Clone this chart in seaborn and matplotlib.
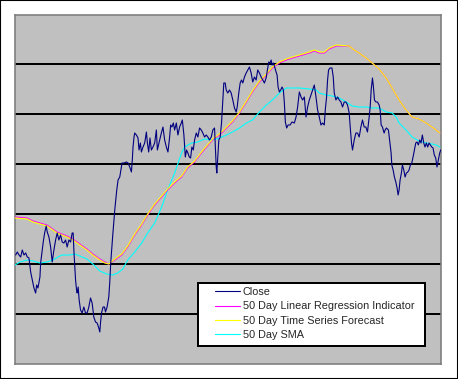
import pandas as pd
import matplotlib
matplotlib.use("Agg")
import matplotlib.pyplot as plt
import seaborn as sns

# (day, price)
close_pts = [(0.7, 20.9), (2.3, 21.2), (4, 20.9), (5.7, 20.7), (7.3, 21.4), (9, 20.9), (10.7, 21.1), (12.3, 20.7),
             (14, 20.6), (15.7, 19.2), (17.3, 18.4), (19, 17.6), (20.7, 17.1), (21.7, 17.9), (23, 17.6), (25, 18.7),
             (25.7, 20.1), (27.3, 21.4), (28.3, 22.2), (29.7, 23.1), (31.3, 23.8), (32.3, 23.2), (34, 22.7), (35.7, 21.7),
             (37.3, 20.2), (39, 21.4), (40.7, 22.4), (42.3, 23.1), (44, 22.4), (45.7, 22.9), (47.3, 22.2), (49, 22.1),
             (50.7, 22.4), (52.3, 21.7), (54, 22.4), (55.7, 22.2), (57.3, 23.1), (58.3, 23.1), (59, 21.4), (59.7, 20.1),
             (60.7, 18.4), (61.7, 17.4), (62.3, 17.1), (63.3, 17.7), (64.3, 16.4), (65.7, 15.4), (67.3, 15.1), (69, 15.7),
             (70.7, 15.1), (72.3, 15.1), (74, 15.7), (75.7, 16.6), (77.3, 16.1), (79, 14.7), (80.7, 14.2), (82.3, 14.1),
             (84, 13.6), (85, 13.2), (85.7, 14.1), (86.7, 15.1), (88.3, 15.7), (89.7, 15.7), (90.7, 15.2), (92.3, 15.7),
             (94, 16.7), (95, 18.2), (96, 20.2), (97, 21.6), (98, 22.9), (99, 24.2), (100, 25.4), (101, 26.4),
             (102, 27.4), (103.3, 28.4), (105, 28.7), (106.7, 29.7), (107.3, 30.1), (109.3, 30.1), (111.7, 30.2), (113.3, 30.1),
             (115, 29.7), (116.7, 29.2), (117.7, 30.6), (118.3, 31.7), (119.3, 32.7), (120, 33.1), (121.7, 32.9), (123.3, 32.6),
             (124.3, 31.4), (125.7, 32.1), (126.7, 31.2), (128.3, 31.7), (130, 32.1), (131.7, 33.2), (132.7, 32.1), (134, 31.2),
             (135.3, 32.6), (136.7, 31.4), (138.3, 31.7), (140, 32.1), (141.7, 33.4), (142.7, 31.4), (144.3, 32.1), (146.7, 33.1),
             (148.3, 33.7), (150, 32.4), (151.7, 31.7), (153.3, 31.2), (155, 32.7), (156, 33.9), (157.3, 33.7), (158.7, 34.1),
             (160, 33.4), (161.7, 34.1), (163.3, 32.9), (165, 33.7), (166.7, 34.1), (167.7, 34.4), (169.3, 32.9), (170.7, 30.7),
             (172, 31.4), (173.3, 31.1), (174.7, 30.7), (176, 30.6), (177.3, 31.7), (178.7, 31.4), (180, 32.4), (181.7, 33.1),
             (183.3, 32.7), (185, 33.6), (186.7, 33.4), (188.3, 33.1), (190, 32.7), (191.7, 32.9), (193.3, 32.7), (195, 32.4),
             (196.7, 32.7), (198.3, 33.4), (200, 33.6), (201, 31.4), (201.7, 29.7), (202.3, 29.1), (203.3, 30.7), (204.3, 32.4),
             (205.7, 32.7), (207, 34.1), (208.3, 36.4), (209.3, 38.1), (210.7, 38.1), (211.7, 37.4), (213.3, 37.1), (215, 37.4),
             (216.7, 37.1), (218.3, 36.4), (220, 35.6), (221.7, 35.2), (222.7, 35.7), (224.3, 37.1), (225.7, 38.1), (227, 38.4),
             (228.3, 38.1), (230, 38.7), (231.7, 39.1), (233.3, 39.4), (235, 39.7), (236.7, 39.1), (238.3, 38.2), (240, 38.7),
             (241.7, 38.4), (243.3, 39.4), (245, 39.1), (246.7, 38.7), (248.3, 38.4), (250, 38.1), (251.7, 38.6), (253.3, 39.6),
             (254.3, 40.2), (255.7, 40.1), (256.7, 40.4), (257.7, 39.9), (259, 40.1), (260.3, 39.7), (261.7, 39.2), (262.7, 38.9),
             (263.7, 37.7), (265, 37.2), (266.3, 37.4), (267.7, 37.7), (269, 37.4), (270, 36.1), (271, 34.2), (272.3, 33.6),
             (273.7, 33.9), (275.7, 33.9), (277.7, 34.2), (280, 34.1), (281.7, 34.7), (283.3, 35.7), (285, 37.2), (286.7, 36.7),
             (288.3, 36.4), (290, 36.7), (291.7, 34.7), (293.3, 35.7), (295, 36.4), (296.7, 36.9), (298.3, 37.4), (300, 37.9),
             (301.7, 36.7), (303.3, 35.4), (305, 34.7), (306.7, 33.9), (308.3, 34.1), (310, 33.9), (311, 35.4), (312.3, 36.7),
             (313.3, 38.4), (314.3, 39.4), (315.7, 39.6), (317.7, 39.6), (319, 38.7), (320, 37.1), (321.7, 36.4), (323.3, 36.7),
             (325, 36.4), (326.7, 36.2), (328.3, 35.7), (330, 36.2), (331.7, 36.2), (333.3, 35.9), (335, 35.1), (336, 33.7),
             (337.3, 32.1), (338.3, 31.4), (340, 32.4), (341.7, 33.1), (343.3, 33.1), (345, 32.7), (346.7, 33.7), (348.3, 34.4),
             (350, 33.7), (351.7, 33.7), (353.3, 33.2), (355, 34.7), (356, 35.7), (357, 37.4), (358.3, 38.6), (359.3, 37.7),
             (360.3, 36.4), (361.7, 36.2), (363.3, 36.2), (365, 35.9), (366, 35.4), (367, 33.9), (368.3, 33.7), (370, 33.1),
             (371, 33.4), (372.3, 33.6), (374.3, 33.4), (375.7, 32.2), (377, 31.1), (377.7, 29.9), (379, 29.4), (380.3, 28.7),
             (381.7, 28.2), (383, 27.6), (384, 26.9), (385, 27.4), (386, 28.4), (387.3, 29.1), (388.3, 29.9), (389.7, 29.4),
             (391, 28.7), (392.3, 29.1), (393.7, 29.2), (395, 29.4), (396.3, 29.9), (397.7, 30.1), (399, 30.7), (400.3, 31.4),
             (401.7, 32.1), (403, 32.2), (404.3, 31.9), (405.7, 32.4), (407, 32.1), (408.3, 32.9), (409.7, 32.1), (411, 31.7),
             (412.3, 32.1), (413.7, 31.7), (415, 32.1), (416.3, 31.9), (417.7, 31.7), (419, 31.6), (420.3, 30.9), (421.7, 30.6),
             (423, 29.7), (424.3, 30.4), (425.7, 31.1), (426.7, 31.4)]

lri_pts = [(0, 24.7), (12, 24.6), (18, 24.3), (25, 24.1), (32, 23.9), (35, 23.7), (42, 23.2), (52, 22.8), (58, 22.5),
           (65, 22.0), (72, 21.5), (78, 21.0), (85, 20.5), (90, 20.2), (94, 20.0), (100, 20.4), (107, 20.9), (113, 21.7),
           (120, 22.9), (127, 23.9), (133, 24.9), (140, 25.9), (147, 26.7), (153, 27.4), (160, 28.1), (167, 28.7),
           (173, 29.6), (180, 30.2), (187, 31.1), (192, 31.7), (198, 32.4), (205, 32.9), (212, 33.6), (218, 34.2),
           (225, 35.1), (232, 36.2), (238, 37.2), (245, 38.2), (252, 38.9), (258, 39.6), (265, 40.1), (272, 40.4),
           (278, 40.6), (285, 40.8), (295, 41.1), (300, 41.3), (305, 41.1), (310, 41.1), (315, 41.5), (322, 41.8),
           (335, 41.8), (340, 41.4), (345, 41.1), (352, 40.6), (358, 40.1), (365, 39.5), (372, 38.6), (378, 37.6),
           (385, 36.4), (392, 35.4), (398, 34.7), (405, 34.5), (412, 34.1), (418, 33.7), (426, 33.1)]

tsf_pts = [(0, 24.6), (12, 24.5), (18, 24.2), (25, 24.0), (32, 23.8), (35, 23.6), (42, 23.1), (52, 22.7), (58, 22.4),
           (65, 21.9), (72, 21.4), (78, 20.9), (85, 20.4), (90, 20.1), (94, 20.0), (100, 20.5), (107, 21.0), (113, 21.8),
           (120, 23.0), (127, 24.0), (133, 25.0), (140, 26.0), (147, 26.8), (153, 27.5), (160, 28.2), (167, 28.8),
           (173, 29.7), (180, 30.3), (187, 31.2), (192, 31.8), (198, 32.5), (205, 33.0), (212, 33.7), (218, 34.3),
           (225, 35.2), (232, 36.3), (238, 37.3), (245, 38.3), (252, 39.0), (258, 39.7), (265, 40.2), (272, 40.5),
           (278, 40.7), (285, 40.9), (295, 41.2), (300, 41.4), (305, 41.2), (310, 41.2), (315, 41.6), (322, 41.9),
           (335, 41.8), (340, 41.4), (345, 41.1), (352, 40.6), (358, 40.1), (365, 39.5), (372, 38.6), (378, 37.6),
           (385, 36.4), (392, 35.4), (398, 34.7), (405, 34.5), (412, 34.1), (418, 33.7), (426, 33.1)]

sma_pts = [(0, 19.9), (5, 20.2), (12, 20.4), (18, 20.3), (25, 20.1), (32, 20.2), (38, 20.4), (43, 20.7), (47, 20.9),
           (55, 20.9), (60, 21.0), (65, 20.8), (72, 20.5), (78, 20.0), (85, 19.3), (92, 19.0), (98, 18.9), (103, 19.1),
           (108, 19.5), (113, 20.4), (120, 21.2), (127, 22.1), (133, 23.1), (140, 24.1), (147, 25.7), (153, 27.4),
           (160, 29.1), (167, 31.1), (170, 31.7), (177, 32.1), (183, 32.2), (190, 32.5), (198, 32.4), (205, 32.6),
           (212, 32.9), (218, 33.2), (225, 33.6), (232, 34.1), (238, 34.4), (245, 35.2), (252, 35.9), (258, 36.4),
           (265, 37.1), (272, 37.6), (278, 37.6), (285, 37.6), (295, 37.5), (302, 37.4), (305, 37.1), (312, 36.9),
           (318, 36.8), (325, 36.6), (332, 36.2), (338, 35.8), (345, 35.7), (352, 35.7), (358, 35.6), (365, 35.6),
           (372, 35.2), (378, 35.1), (382, 34.7), (385, 34.1), (392, 33.4), (398, 32.7), (405, 32.3), (412, 32.1),
           (418, 32.0), (422, 31.9), (426, 31.7)]

labels = ["Close", "50 Day Linear Regression Indicator", "50 Day Time Series Forecast", "50 Day SMA"]
colors = ["#000080", "#FF00FF", "#FFFF00", "#00FFFF"]
grid_levels = [15, 20, 25, 30, 35, 40]

sns.set(style="white")
plt.rcParams['font.family'] = ['Liberation Sans', 'DejaVu Sans']

fig = plt.figure(figsize=(4.58, 3.79), dpi=100)
ax = fig.add_axes([15 / 458, 15 / 379, 426 / 458, 349 / 379])
ax.set_facecolor("#C0C0C0")

for yv in grid_levels:
    ax.axhline(yv, color="black", lw=1.2, zorder=1, antialiased=False)

series = [close_pts, lri_pts, tsf_pts, sma_pts]
order = [3, 1, 2, 0]
for i in order:
    df = pd.DataFrame(series[i], columns=["day", "price"])
    sns.lineplot(data=df, x="day", y="price", ax=ax, color=colors[i], lw=0.8,
                 label=labels[i], sort=False, zorder=3 + (i == 0))

ax.set_xlim(0, 427)
ax.set_ylim(10, 44.9)
ax.set_xticks([])
ax.set_yticks([])
ax.set_xlabel("")
ax.set_ylabel("")
for sp in ax.spines.values():
    sp.set_color("#808080")
    sp.set_linewidth(1.2)

# legend box drawn by hand, entries placed inside it
box = plt.Rectangle(((198 - 15) / 426, (364 - 346) / 349), (425 - 198) / 426, (346 - 283) / 349,
                    transform=ax.transAxes, facecolor="white", edgecolor="black", lw=1.2, zorder=5,
                    antialiased=False)
ax.add_patch(box)

h, l = ax.get_legend_handles_labels()
hd = dict(zip(l, h))
leg = ax.legend([hd[k] for k in labels], labels, loc="center left",
                bbox_to_anchor=((215 - 15) / 426, (364 - 313.5) / 349),
                fontsize=7.8, frameon=False, handlelength=2.3, handletextpad=0.25,
                labelspacing=0.4, borderpad=0, borderaxespad=0)
leg.set_zorder(6)

fig.add_artist(plt.Rectangle((0, 0), 1, 1, transform=fig.transFigure, fill=False,
                             edgecolor="black", lw=1.5))

fig.savefig("out.png", dpi=100, facecolor="white")
